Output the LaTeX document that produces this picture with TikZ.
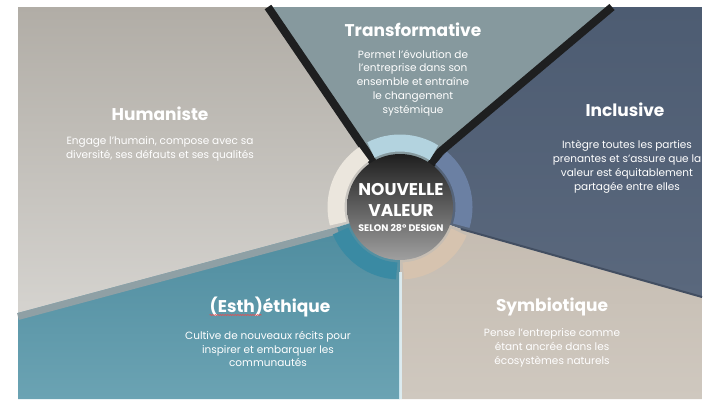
\documentclass[tikz,border=0pt]{standalone}
\usepackage{fontspec}
\setmainfont{Poppins}
\usetikzlibrary{decorations.pathmorphing}

\definecolor{humhaut}{HTML}{B1ADA6}
\definecolor{humbas}{HTML}{D5D3CF}
\definecolor{transfo}{HTML}{86999E}
\definecolor{inclhaut}{HTML}{4D5C72}
\definecolor{inclbas}{HTML}{5A687D}
\definecolor{symbhaut}{HTML}{C4BBB0}
\definecolor{symbbas}{HTML}{CFC8BF}
\definecolor{esthhaut}{HTML}{4C8A9D}
\definecolor{esthbas}{HTML}{6BA3B3}
\definecolor{sepnoir}{HTML}{1E1F20}
\definecolor{sepgris}{HTML}{8FA0A5}
\definecolor{anncreme}{HTML}{EBE6DD}
\definecolor{annbleu}{HTML}{B3D3DF}
\definecolor{annardoise}{HTML}{6B80A3}
\definecolor{annbeige}{HTML}{D6C3AF}
\definecolor{annteal}{HTML}{3A8AA3}

\tikzset{
  titre/.style={text=white, inner sep=0pt, font=\fontsize{17}{20}\selectfont\bfseries},
  texte/.style={text=white, inner sep=0pt, align=center, font=\fontsize{10.5}{13.8}\selectfont},
  centre/.style={text=white, inner sep=0pt, font=\fontsize{17}{20}\selectfont\bfseries},
  separateur/.style={line width=8pt, sepnoir},
  anneau/.style={line width=17pt}
}

\begin{document}
\begin{tikzpicture}[x=1pt, y=-1pt]
\fill[white] (0,0) rectangle (703,399);
\useasboundingbox (0,0) rectangle (703,399);

% centre et points de bord de l'anneau
\coordinate (C) at (400,207);
\coordinate (B1) at (366,151);
\coordinate (B2) at (440,152);
\coordinate (B3) at (461,229);
\coordinate (B4) at (400,272);
\coordinate (B5) at (338,227);

% les cinq secteurs
\shade[top color=humhaut, bottom color=humbas] (18,7) -- (268,7) -- (B1) -- (C) -- (B5) -- (18,313) -- cycle;
\fill[transfo] (268,7) -- (612,7) -- (B2) -- (C) -- (B1) -- cycle;
\shade[top color=inclhaut, bottom color=inclbas] (612,7) -- (702,7) -- (702,297) -- (B3) -- (C) -- (B2) -- cycle;
\shade[top color=symbhaut, bottom color=symbbas] (B3) -- (702,297) -- (702,399) -- (400,399) -- (B4) -- (C) -- cycle;
\shade[top color=esthhaut, bottom color=esthbas] (B5) -- (C) -- (B4) -- (400,399) -- (18,399) -- (18,313) -- cycle;

% separations
\draw[sepgris, line width=7pt] ([yshift=-3.5pt]B5) -- ([yshift=-3.5pt]18,313);
\draw[inclhaut!85!black, line width=2pt] (B3) -- (702,297);
\draw[cyan!12!white, opacity=0.8, line width=3pt] (B4) -- (400,399);
\draw[separateur] (C) -- (B1) -- (268,7);
\draw[separateur] (C) -- (B2) -- (612,7);

% anneau
\begin{scope}[shift={(C)}, yscale=-1]
  \draw[anneau, anncreme] (124:64) arc[start angle=124, end angle=195, radius=64];
  \draw[anneau, annbleu] (58:64) arc[start angle=58, end angle=117, radius=64];
  \draw[anneau, annardoise] (-17:64) arc[start angle=-17, end angle=50, radius=64];
  \draw[anneau, annbeige] (-87:64) arc[start angle=-87, end angle=-23, radius=64];
  \draw[anneau, annteal] (-158:64) arc[start angle=-158, end angle=-93, radius=64];
  \shade[top color=black!88, bottom color=gray!75] (0,0) circle[radius=53];
\end{scope}

% centre
\node[centre] (nouvelle) at (401,190) {NOUVELLE};
\node[centre] (valeur) at (401,211) {VALEUR};
\node[centre, font=\fontsize{9.5}{11}\selectfont\bfseries] (selon) at (401,228) {SELON 28° DESIGN};

% titres et textes
\node[titre] (transformative) at (413,30) {Transformative};
\node[texte] (transformative-txt) at (413,83) {Permet l’évolution de\\l’entreprise dans son\\ensemble et entraîne\\le changement\\systémique};

\node[titre] (humaniste) at (160,114) {Humaniste};
\node[texte] (humaniste-txt) at (160,149) {Engage l’humain, compose avec sa\\diversité, ses défauts et ses qualités};

\node[titre] (inclusive) at (625,110) {Inclusive};
\node[texte] (inclusive-txt) at (627,167) {Intègre toutes les parties\\prenantes et s’assure que la\\valeur est équitablement\\partagée entre elles};

\node[titre] (esthetique) at (270,307) {(Esth)éthique};
\node[texte] (esthetique-txt) at (268,349) {Cultive de nouveaux récits pour\\inspirer et embarquer les\\communautés};
\draw[red!75, line width=0.5pt, decorate, decoration={snake, amplitude=0.5pt, segment length=2.5pt}]
  ([yshift=-2.5pt]esthetique.base west) -- ++(52pt,0pt);

\node[titre] (symbiotique) at (552,307) {Symbiotique};
\node[texte] (symbiotique-txt) at (552,348) {Pense l’entreprise comme\\étant ancrée dans les\\écosystèmes naturels};
\end{tikzpicture}
\end{document}
